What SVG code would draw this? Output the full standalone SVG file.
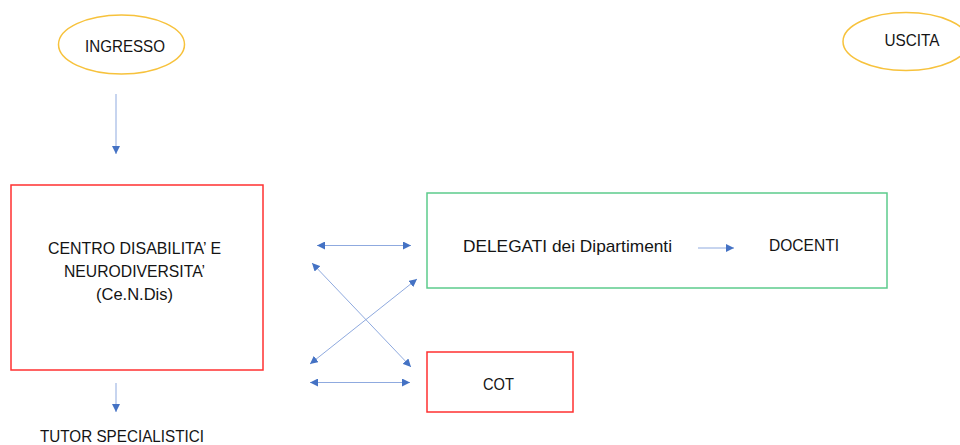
<svg xmlns="http://www.w3.org/2000/svg" width="960" height="445" viewBox="0 0 960 445">
<defs>
<style>
.t{font-family:"Liberation Sans",Arial,sans-serif;font-size:17px;fill:#141414;text-anchor:middle}
.ell{fill:#fff;stroke:#F7C23C;stroke-width:1.5}
.red{fill:#fff;stroke:#FF3030;stroke-width:1.5}
.grn{fill:#fff;stroke:#5CCB8C;stroke-width:1.5}
.c{stroke:#8FAADF;stroke-width:1;fill:none}
</style>
<marker id="ah" viewBox="0 0 10 10" refX="10" refY="5" markerWidth="8" markerHeight="8" markerUnits="userSpaceOnUse" orient="auto-start-reverse">
<path d="M0,0 L10,5 L0,10 z" fill="#4472C4"/>
</marker>
</defs>
<rect width="960" height="445" fill="#fff"/>
<g id="ingresso">
<ellipse class="ell" cx="121.5" cy="44.5" rx="63" ry="29.5"/>
<text class="t" x="125" y="52" textLength="80" lengthAdjust="spacingAndGlyphs">INGRESSO</text>
</g>
<g id="uscita">
<ellipse class="ell" cx="906" cy="41.5" rx="63" ry="29"/>
<text class="t" x="912" y="46" textLength="55" lengthAdjust="spacingAndGlyphs">USCITA</text>
</g>
<g id="centro">
<rect class="red" x="11" y="185" width="252" height="185"/>
<text class="t" x="134.5" y="254" textLength="173" lengthAdjust="spacingAndGlyphs">CENTRO DISABILITA’ E</text>
<text class="t" x="134.5" y="277" textLength="141" lengthAdjust="spacingAndGlyphs">NEURODIVERSITA’</text>
<text class="t" x="134.5" y="300" textLength="77" lengthAdjust="spacingAndGlyphs">(Ce.N.Dis)</text>
</g>
<g id="delegati">
<rect class="grn" x="427" y="193" width="460" height="95"/>
<text class="t" x="567.5" y="252" textLength="209" lengthAdjust="spacingAndGlyphs">DELEGATI dei Dipartimenti</text>
</g>
<g id="docenti">
<text class="t" x="804" y="251" textLength="70" lengthAdjust="spacingAndGlyphs">DOCENTI</text>
</g>
<g id="cot">
<rect class="red" x="427" y="352" width="146" height="60"/>
<text class="t" x="498.5" y="390" textLength="31" lengthAdjust="spacingAndGlyphs">COT</text>
</g>
<g id="tutor">
<text class="t" x="122" y="442" textLength="164" lengthAdjust="spacingAndGlyphs">TUTOR SPECIALISTICI</text>
</g>
<g id="connectors">
<line class="c" x1="116" y1="94" x2="116" y2="154" marker-end="url(#ah)"/>
<line class="c" x1="116" y1="383" x2="116" y2="412" marker-end="url(#ah)"/>
<line class="c" x1="698" y1="248" x2="734" y2="248" marker-end="url(#ah)"/>
<line class="c" x1="317" y1="245.5" x2="411" y2="245.5" marker-start="url(#ah)" marker-end="url(#ah)"/>
<line class="c" x1="312" y1="263" x2="411" y2="367" marker-start="url(#ah)" marker-end="url(#ah)"/>
<line class="c" x1="310" y1="364" x2="417" y2="279" marker-start="url(#ah)" marker-end="url(#ah)"/>
<line class="c" x1="310" y1="382.5" x2="410" y2="382.5" marker-start="url(#ah)" marker-end="url(#ah)"/>
</g>
</svg>
